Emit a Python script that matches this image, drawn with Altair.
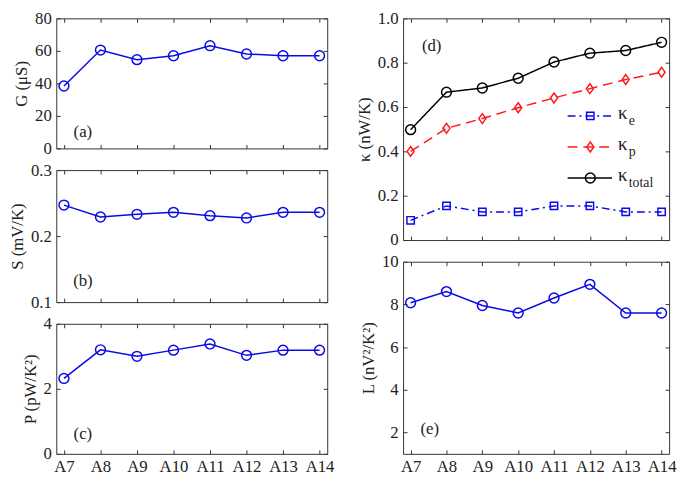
import altair as alt
import pandas as pd

categories = ["A7", "A8", "A9", "A10", "A11", "A12", "A13", "A14"]
G_values = [38.4, 60.5, 54.6, 57.0, 63.2, 58.1, 57.0, 57.0]
S_values = [0.247, 0.229, 0.233, 0.236, 0.231, 0.2275, 0.236, 0.236]
P_values = [2.32, 3.20, 3.00, 3.19, 3.38, 3.03, 3.19, 3.19]
kappa_e = [0.089, 0.154, 0.127, 0.127, 0.154, 0.154, 0.127, 0.127]
kappa_p = [0.400, 0.504, 0.548, 0.597, 0.641, 0.683, 0.724, 0.757]
kappa_total = [0.498, 0.667, 0.686, 0.730, 0.803, 0.843, 0.855, 0.892]
L_values = [8.08, 8.60, 7.95, 7.60, 8.30, 8.94, 7.60, 7.60]
kappa_names = ["e", "p", "total"]

FONT = "Liberation Serif"
FS = 17
TXT = "#222222"
FRAME = "#333333"
BLUE = "#0a0ae6"
RED = "#ff1a1a"
BLACK = "#000000"
TICK = 4
PAD = 0.21

SQUARE = "M-0.75,-0.75L0.75,-0.75L0.75,0.75L-0.75,0.75Z"
DIAMOND = "M0,-1L0.72,0L0,1L-0.72,0Z"


def bottom_axis(show):
    return alt.Axis(orient="bottom", offset=-TICK, tickSize=TICK, domain=False, grid=False,
                    labels=show, labelPadding=5, labelAngle=0, title=None)


def top_axis():
    return alt.Axis(orient="top", offset=-TICK, tickSize=TICK, domain=False, grid=False,
                    labels=False, title=None)


def left_axis(ticks, title, expr):
    return alt.Axis(orient="left", values=ticks, offset=-TICK, tickSize=TICK, domain=False,
                    grid=False, labelPadding=5, title=title, titlePadding=4, labelExpr=expr)


def right_axis(ticks):
    return alt.Axis(orient="right", values=ticks, offset=-TICK, tickSize=TICK, domain=False,
                    grid=False, labels=False, title=None)


def tag_layer(tag, x, y):
    return alt.Chart(pd.DataFrame({"t": [tag]})).mark_text(
        font=FONT, fontSize=FS, color=TXT).encode(text="t:N", x=alt.value(x), y=alt.value(y))


def simple_panel(values, domain, ticks, title, expr, tag, tag_from_bottom, width, height, show_x):
    df = pd.DataFrame({"cat": categories, "v": values})
    xs = alt.Scale(type="point", domain=categories, padding=PAD)
    ys = alt.Scale(domain=domain, nice=False, zero=False)
    base = alt.Chart(df)
    line = base.mark_line(color=BLUE, strokeWidth=1.5).encode(
        x=alt.X("cat:N", scale=xs, axis=bottom_axis(show_x)),
        y=alt.Y("v:Q", scale=ys, axis=left_axis(ticks, title, expr)))
    pts = base.mark_point(shape="circle", size=100, filled=False, color=BLUE,
                          strokeWidth=1.5, opacity=1).encode(
        x=alt.X("cat:N", scale=xs, axis=top_axis()),
        y=alt.Y("v:Q", scale=ys, axis=right_axis(ticks)))
    return alt.layer(line, pts, tag_layer(tag, 27, height - tag_from_bottom)).properties(
        width=width, height=height)


LW, RW = 275, 270

pa = simple_panel(G_values, [0, 80], [0, 20, 40, 60, 80], "G (μS)", "format(datum.value, 'd')",
                  "(a)", 17, LW, 132, False)
pb = simple_panel(S_values, [0.1, 0.3], [0.1, 0.2, 0.3], "S (mV/K)", "format(datum.value, '.1f')",
                  "(b)", 21, LW, 134, False)
pc = simple_panel(P_values, [0, 4], [0, 2, 4], "P (pW/K²)", "format(datum.value, 'd')",
                  "(c)", 20, LW, 132, True)
pe = simple_panel(L_values, [1, 10], [2, 4, 6, 8, 10], "L (nV²/K²)", "format(datum.value, 'd')",
                  "(e)", 25, RW, 195, True)

# panel (d)
rows = []
for name, vals in zip(kappa_names, [kappa_e, kappa_p, kappa_total]):
    for c, v in zip(categories, vals):
        rows.append({"cat": c, "v": v, "series": name})
dk = pd.DataFrame(rows)
dleg = pd.DataFrame({"series": kappa_names, "k": ["κ"] * 3})
kx = alt.Scale(type="point", domain=categories, padding=PAD)
ky = alt.Scale(domain=[0, 1], nice=False, zero=False)
kticks = [0, 0.2, 0.4, 0.6, 0.8, 1.0]
kexpr = "datum.value == 0 ? '0' : format(datum.value, '.1f')"
color_enc = alt.Color("series:N", scale=alt.Scale(domain=kappa_names, range=[BLUE, RED, BLACK]),
                      legend=None)
dash_enc = alt.StrokeDash("series:N", scale=alt.Scale(domain=kappa_names,
                          range=[[8, 4, 2, 4], [10, 6], [1, 0]]), legend=None)
shape_enc = alt.Shape("series:N", scale=alt.Scale(domain=kappa_names,
                      range=[SQUARE, DIAMOND, "circle"]), legend=None)
DH = 225

k_lines = alt.Chart(dk).mark_line(strokeWidth=1.5).encode(
    x=alt.X("cat:N", scale=kx, axis=bottom_axis(False)),
    y=alt.Y("v:Q", scale=ky, axis=left_axis(kticks, "κ (nW/K)", kexpr)),
    color=color_enc, strokeDash=dash_enc)
k_pts = alt.Chart(dk).mark_point(size=100, filled=False, strokeWidth=1.5, opacity=1).encode(
    x=alt.X("cat:N", scale=kx, axis=top_axis()),
    y=alt.Y("v:Q", scale=ky, axis=right_axis(kticks)),
    color=color_enc, shape=shape_enc)

# legend rows inside panel (d)
leg_y = alt.Y("series:N", scale=alt.Scale(type="point", domain=kappa_names, range=[99, 162],
                                          padding=0), axis=None)
lg = alt.Chart(dleg)
leg_rule = lg.mark_rule(strokeWidth=1.5).encode(
    x=alt.value(167), x2=alt.value(212), y=leg_y, color=color_enc, strokeDash=dash_enc)
leg_pt = lg.mark_point(size=100, filled=False, strokeWidth=1.5, opacity=1).encode(
    x=alt.value(190), y=leg_y, color=color_enc, shape=shape_enc)
leg_k = lg.mark_text(font=FONT, fontSize=19, color=TXT, align="left", dy=-3).encode(
    x=alt.value(218), y=leg_y, text="k:N")
leg_sub = lg.mark_text(font=FONT, fontSize=14, color=TXT, align="left", dy=5).encode(
    x=alt.value(229), y=leg_y, text="series:N")

pd_chart = alt.layer(k_lines, k_pts, leg_rule, leg_pt, leg_k, leg_sub,
                     tag_layer("(d)", 29, 28)).resolve_scale(
    y="independent").properties(width=RW, height=DH)

left = alt.vconcat(pa, pb, pc, spacing=22, bounds="flush")
right = alt.vconcat(pd_chart, pe, spacing=22, bounds="flush")
chart = alt.hconcat(left, right, spacing=20).properties(
    padding={"left": 0, "top": -3, "right": 0, "bottom": 0}, background="white"
).configure_axis(
    labelFont=FONT, labelFontSize=FS, titleFont=FONT, titleFontSize=FS,
    titleFontWeight="normal", labelColor=TXT, titleColor=TXT, tickColor=FRAME, tickWidth=1
).configure_view(stroke=FRAME, strokeWidth=1)

chart.save("out.html", embed_options={"renderer": "svg", "actions": False})
